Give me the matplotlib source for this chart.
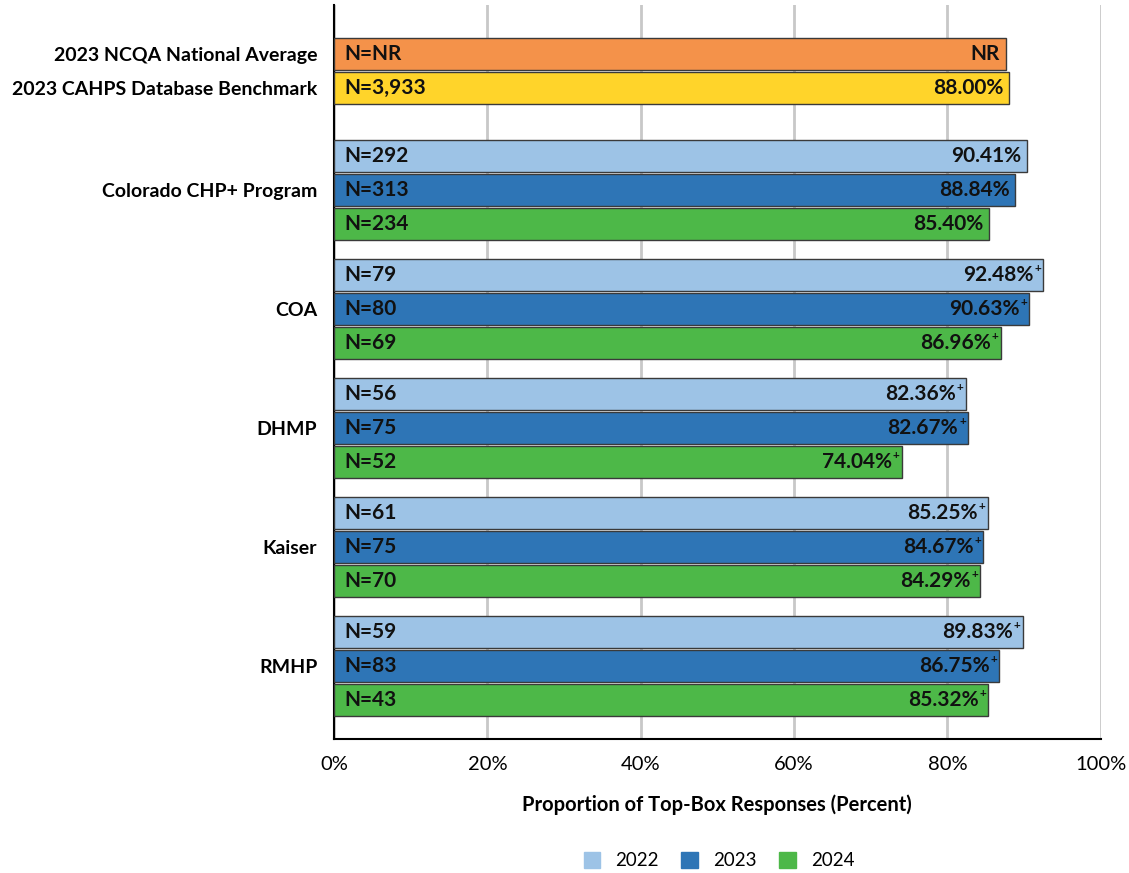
import numpy as np
import matplotlib
matplotlib.use("Agg")
import matplotlib.pyplot as plt

plt.rcParams['font.family'] = ['Lato', 'DejaVu Sans']

# data
groups = ['Colorado CHP+ Program', 'COA', 'DHMP', 'Kaiser', 'RMHP']
years = ['2022', '2023', '2024']
values = {
    '2022': [90.41, 92.48, 82.36, 85.25, 89.83],
    '2023': [88.84, 90.63, 82.67, 84.67, 86.75],
    '2024': [85.40, 86.96, 74.04, 84.29, 85.32],
}
counts = {
    '2022': ['292', '79', '56', '61', '59'],
    '2023': ['313', '80', '75', '75', '83'],
    '2024': ['234', '69', '52', '70', '43'],
}
plus = {
    '2022': [False, True, True, True, True],
    '2023': [False, True, True, True, True],
    '2024': [False, True, True, True, True],
}
bench_labels = ['2023 NCQA National Average', '2023 CAHPS Database Benchmark']
bench_values = [87.6, 88.00]   # NCQA value not reported, bar length estimated
bench_text = ['NR', '88.00%']
bench_counts = ['NR', '3,933']

year_colors = {'2022': '#9DC3E6', '2023': '#2E75B6', '2024': '#4DB848'}
bench_colors = ['#F4924A', '#FFD42A']
edge = '#3a3a3a'

fig = plt.figure(figsize=(11.29, 8.73), dpi=100)
ax = fig.add_axes([0.2958, 0.1535, 0.975 - 0.2958, 0.9943 - 0.1535])

h = 0.96
fs = 15

def bar_label(y, val, ntext, vtext, has_plus):
    ax.text(1.4, y, 'N=' + ntext, va='center', ha='left', fontsize=fs, fontweight='bold', color='#111111')
    if has_plus:
        ax.annotate(vtext, (val, y), xytext=(-7, 0), textcoords='offset points', va='center', ha='right',
                    fontsize=fs, fontweight='bold', color='#111111')
        ax.annotate('+', (val, y), xytext=(-1.5, 4.5), textcoords='offset points', va='center', ha='right',
                    fontsize=8.5, fontweight='bold', color='#111111')
    else:
        ax.annotate(vtext, (val, y), xytext=(-4, 0), textcoords='offset points', va='center', ha='right',
                    fontsize=fs, fontweight='bold', color='#111111')

# benchmarks
for i in range(2):
    ax.barh(i, bench_values[i], height=h, color=bench_colors[i], edgecolor=edge, linewidth=1, zorder=3)
    bar_label(i, bench_values[i], bench_counts[i], bench_text[i], False)

# groups
starts = [3 + 3.5 * g for g in range(len(groups))]
for g, s in enumerate(starts):
    for k, yr in enumerate(years):
        y = s + k
        v = values[yr][g]
        ax.barh(y, v, height=h, color=year_colors[yr], edgecolor=edge, linewidth=1, zorder=3)
        bar_label(y, v, counts[yr][g], '%.2f%%' % v, plus[yr][g])

yt = [0, 1] + [s + 1 for s in starts]
ax.set_yticks(yt)
ax.set_yticklabels(bench_labels + groups, fontsize=14, fontweight='bold')
ax.tick_params(axis='y', length=0, pad=12)
ax.set_ylim(20.15, -1.44)

ax.set_xlim(0, 100)
ax.set_xticks(np.arange(0, 101, 20))
ax.set_xticklabels(['%d%%' % t for t in range(0, 101, 20)], fontsize=14.5)
ax.tick_params(axis='x', length=0, pad=12)
ax.xaxis.grid(True, color='#c8c8c8', linewidth=2, zorder=0)
ax.set_axisbelow(True)
ax.set_xlabel('Proportion of Top-Box Responses (Percent)', fontsize=14.5, fontweight='bold', labelpad=16)

for sp in ['top', 'right']:
    ax.spines[sp].set_visible(False)
ax.spines['left'].set_linewidth(1.5)
ax.spines['bottom'].set_linewidth(1.5)

handles = [plt.Rectangle((0, 0), 1, 1, color=year_colors[y]) for y in years]
fig.legend(handles, years, loc='center', bbox_to_anchor=(0.637, 0.014), ncol=3, frameon=False,
           fontsize=13.5, handlelength=0.9, handleheight=0.9, columnspacing=1.2, handletextpad=0.8)

fig.savefig('out.png', dpi=100)
